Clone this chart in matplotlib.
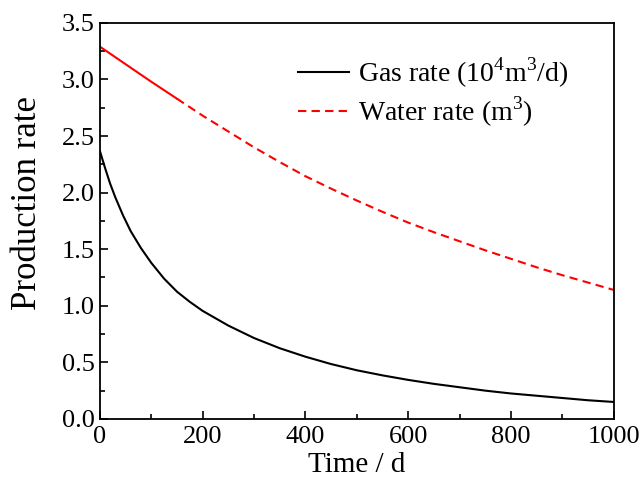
import matplotlib

matplotlib.use("Agg")
import matplotlib.pyplot as plt
from matplotlib.ticker import MultipleLocator

# values
gas_days = [0, 10, 20, 30, 45, 60, 80, 100, 125, 150, 175, 200, 250, 300, 350, 400,
            450, 500, 550, 600, 650, 700, 750, 800, 850, 900, 950, 1000]
gas_rate = [2.37, 2.22, 2.08, 1.96, 1.80, 1.66, 1.51, 1.38, 1.24, 1.125, 1.035, 0.955,
            0.825, 0.715, 0.625, 0.55, 0.485, 0.43, 0.385, 0.345, 0.31, 0.28, 0.25,
            0.225, 0.205, 0.185, 0.165, 0.15]
water_days = [0, 50, 100, 150, 200, 250, 300, 350, 400, 450, 500, 550, 600, 650, 700,
              750, 800, 850, 900, 950, 1000]
water_rate = [3.29, 3.135, 2.98, 2.83, 2.68, 2.54, 2.40, 2.27, 2.145, 2.035, 1.93, 1.83,
              1.735, 1.65, 1.57, 1.49, 1.415, 1.34, 1.27, 1.205, 1.14]

plt.rcParams["font.family"] = ["Liberation Serif", "DejaVu Serif"]
plt.rcParams["mathtext.fontset"] = "custom"
plt.rcParams["mathtext.rm"] = "Liberation Serif"

fig = plt.figure(figsize=(6.44, 4.86), dpi=100)
ax = fig.add_axes([0.155, 0.138, 0.798, 0.815])

ax.plot(gas_days, gas_rate, color="black", lw=1.5, label="Gas rate (10$^{4}$m$^{3}$/d)")
# the first stretch of the water curve reads as solid in the original
n_solid = 4
ax.plot(water_days[:n_solid], water_rate[:n_solid], color="red", lw=1.5)
ax.plot(water_days[n_solid - 1:], water_rate[n_solid - 1:], color="red", lw=1.5,
        dashes=(4, 2.5))
ax.plot([], [], color="red", lw=1.5, dashes=(4, 2.5), label="Water rate (m$^{3}$)")

ax.set_xlim(0, 1000)
ax.set_ylim(0, 3.5)
ax.xaxis.set_major_locator(MultipleLocator(200))
ax.xaxis.set_minor_locator(MultipleLocator(100))
ax.yaxis.set_major_locator(MultipleLocator(0.5))
ax.yaxis.set_minor_locator(MultipleLocator(0.25))
ax.tick_params(which="both", direction="in", labelsize=19, width=1.2)
ax.tick_params(which="major", length=6)
ax.tick_params(which="minor", length=3.5)
ax.tick_params(axis="x", pad=5)
for s in ax.spines.values():
    s.set_linewidth(1.3)

ax.set_xlabel("Time / d", fontsize=21, labelpad=3)
ax.set_ylabel("Production rate", fontsize=25)
ax.yaxis.set_label_coords(-0.108, 0.545)

handles, labels = ax.get_legend_handles_labels()
leg = ax.legend([handles[0], handles[-1]], [labels[0], labels[-1]],
                loc="upper right", bbox_to_anchor=(0.96, 0.98), frameon=False,
                fontsize=20, handlelength=1.85, handletextpad=0.3, labelspacing=0.15)

fig.savefig("out.png", dpi=100)
